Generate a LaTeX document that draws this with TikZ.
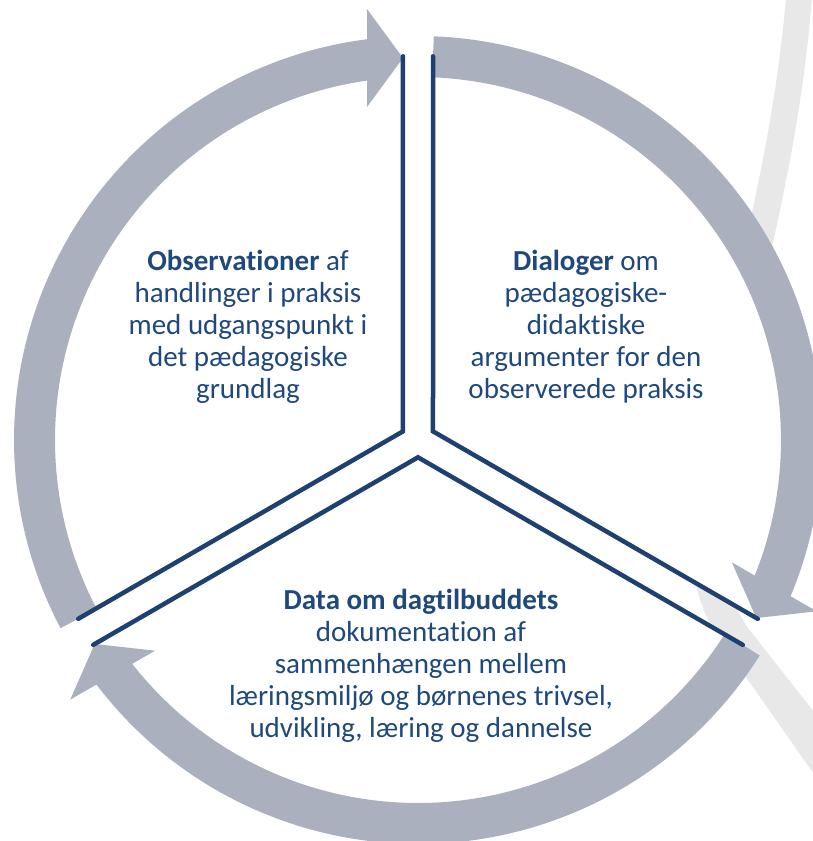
\documentclass[tikz,border=0pt]{standalone}
\usepackage{fontspec}
\setmainfont{Carlito}[Ligatures={NoCommon,NoRare}]
\definecolor{cyclenavy}{HTML}{1F4171}
\definecolor{cycletext}{HTML}{1F497D}
\definecolor{arrowgray}{HTML}{ABB0BF}
\definecolor{swooshgray}{HTML}{E8E8E8}

\begin{document}
\begin{tikzpicture}[x=1pt,y=1pt]

	\tikzset{band arrow/.style={fill=arrowgray}}
	\tikzset{divider/.style={draw=cyclenavy,line width=4.5pt,line cap=round,line join=miter}}
	\tikzset{sector/.style={fill=white}}
	\tikzset{cycle label/.style={text=cycletext,align=center,inner sep=0pt,
				font=\fontsize{29}{32}\selectfont}}

	\path[use as bounding box,clip] (-418,-401) rectangle (395,440);

	% background swoosh
	\fill[swooshgray] (368,442) .. controls (342,140) and (217,-80) .. (302,-200) -- (412,-357)
		-- (422,-305) -- (330,-188) .. controls (250,-70) and (370,140) .. (394,442) -- cycle;

	\begin{scope}
		\fill[sector] (-15,8.66) -- (92.24:384) arc[start angle=92.24,end angle=207.76,radius=384] -- cycle;
		\fill[band arrow] (207.76:404) arc[start angle=207.76,end angle=97.25,radius=404]
			-- (-51,431) -- (-15,382) -- (-51,333)
			-- (98.07:363) arc[start angle=98.07,end angle=207.76,radius=363] -- cycle;
		\draw[divider] (92.24:384) -- (-15,8.66) -- (207.76:384);
	\end{scope}

	\begin{scope}[rotate=-120]
		\fill[sector] (-15,8.66) -- (92.24:384) arc[start angle=92.24,end angle=207.76,radius=384] -- cycle;
		\fill[band arrow] (207.76:404) arc[start angle=207.76,end angle=97.25,radius=404]
			-- (-51,431) -- (-15,382) -- (-51,333)
			-- (98.07:363) arc[start angle=98.07,end angle=207.76,radius=363] -- cycle;
		\draw[divider] (92.24:384) -- (-15,8.66) -- (207.76:384);
	\end{scope}

	\begin{scope}[rotate=-240]
		\fill[sector] (-15,8.66) -- (92.24:384) arc[start angle=92.24,end angle=207.76,radius=384] -- cycle;
		\fill[band arrow] (207.76:404) arc[start angle=207.76,end angle=97.25,radius=404]
			-- (-51,431) -- (-15,382) -- (-51,333)
			-- (98.07:363) arc[start angle=98.07,end angle=207.76,radius=363] -- cycle;
		\draw[divider] (92.24:384) -- (-15,8.66) -- (207.76:384);
	\end{scope}

	\node[cycle label] (obs) at (-170,113) {\textbf{Observationer} af\\handlinger i praksis\\med udgangspunkt i\\det pædagogiske\\grundlag};
	\node[cycle label] (dialog) at (168,113) {\textbf{Dialoger} om\\pædagogiske-\\didaktiske\\argumenter for den\\observerede praksis};
	\node[cycle label] (data) at (3,-226) {\textbf{Data om dagtilbuddets}\\dokumentation af\\sammenhængen mellem\\læringsmiljø og børnenes trivsel,\\udvikling, læring og dannelse};

\end{tikzpicture}
\end{document}
